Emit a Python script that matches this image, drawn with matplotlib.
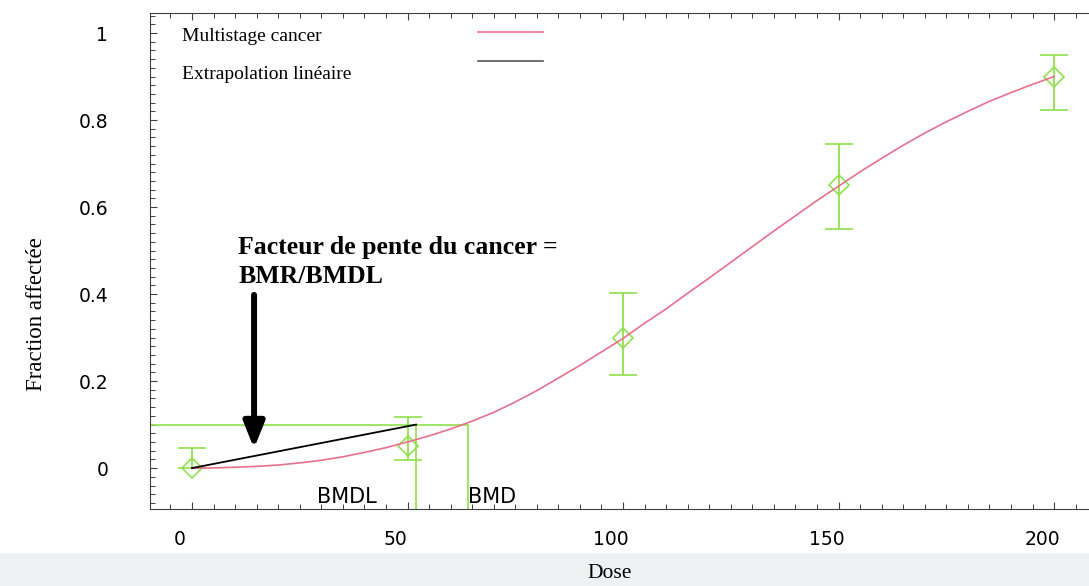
"""
Courbe dose-réponse (modèle multistage) avec BMD / BMDL
et extrapolation linéaire vers l'origine.
"""

import matplotlib.pyplot as plt
from matplotlib.lines import Line2D
from matplotlib.patches import Rectangle
from matplotlib.ticker import MultipleLocator
from matplotlib.transforms import ScaledTranslation

# --- DONNÉES ---
dose = [0, 50, 100, 150, 200]
frac = [0.0, 0.05, 0.30, 0.65, 0.90]
err_bas = [0.0, 0.032, 0.086, 0.10, 0.078]
err_haut = [0.046, 0.067, 0.102, 0.094, 0.050]

# courbe du modèle
model_dose = [0, 5, 10, 15, 20, 25, 30, 35, 40, 45, 50, 55, 60, 65, 70, 75, 80, 85, 90, 95, 100,
              105, 110, 115, 120, 125, 130, 135, 140, 145, 150, 155, 160, 165, 170, 175, 180,
              185, 190, 195, 200]
model_frac = [0.0, 0.0004, 0.002, 0.004, 0.007, 0.012, 0.018, 0.026, 0.036, 0.047, 0.060,
              0.074, 0.090, 0.108, 0.128, 0.152, 0.178, 0.207, 0.236, 0.267, 0.298,
              0.333, 0.366, 0.402, 0.437, 0.473, 0.509, 0.545, 0.580, 0.615, 0.648,
              0.681, 0.712, 0.742, 0.770, 0.796, 0.820, 0.843, 0.863, 0.882, 0.900]

BMR = 0.1
BMDL = 52
BMD = 64

xticks = [0, 50, 100, 150, 200]
yticks = [0, 0.2, 0.4, 0.6, 0.8, 1]
ytick_labels = ['0', '0.2', '0.4', '0.6', '0.8', '1']

# --- STYLE ---
VERT = '#8fe04c'
ROSE = '#e8708c'
SERIF = 'Liberation Serif'
XMIN, XMAX = -9.74, 208.1
YMIN, YMAX = -0.094, 1.046

fig = plt.figure(figsize=(10.89, 5.86), dpi=100)
# bande grise en bas de l'image (sous les axes)
fig.patches.append(Rectangle((0, 0), 1, 0.056, transform=fig.transFigure,
                             color='#eef1f1', zorder=-1))
ax = fig.add_axes([150 / 1089, 1 - 509 / 586, 1 - 150 / 1089, (509 - 13) / 586])
ax.set_xlim(XMIN, XMAX)
ax.set_ylim(YMIN, YMAX)

# BMR / BMDL / BMD
ax.plot([XMIN, BMD], [BMR, BMR], color=VERT, lw=1.2, zorder=2)
ax.vlines([BMDL, BMD], YMIN, BMR, color=VERT, lw=1.2, zorder=2)

# modèle et extrapolation
ax.plot(model_dose, model_frac, color=ROSE, lw=1.2, zorder=4)
ax.plot([0, BMDL], [0, BMR], color='black', lw=1.3, zorder=4)

ax.errorbar(dose, frac, yerr=[err_bas, err_haut], fmt='D', ms=10, mfc='none',
            mec=VERT, mew=1.2, ecolor=VERT, elinewidth=1.3, capsize=10,
            capthick=1.3, zorder=3)

ax.text(42.9, -0.067, 'BMDL', ha='right', va='center', fontsize=15)
ax.text(BMD + 0.1, -0.067, 'BMD', ha='left', va='center', fontsize=15)

# flèche et annotation
ax.annotate('', xy=(14.4, 0.045), xytext=(14.4, 0.398),
            arrowprops=dict(arrowstyle='-|>,head_length=0.65,head_width=0.26',
                            lw=4.3, color='black', mutation_scale=24,
                            shrinkA=0, shrinkB=0))
ax.text(10.7, 0.425, 'Facteur de pente du cancer =\nBMR/BMDL', ha='left', va='baseline',
        fontsize=18.5, fontweight='bold', family=SERIF, linespacing=1.35)

# légende : textes à gauche, traits à droite (deux blocs séparés)
vide = Line2D([], [], color='none')
leg_txt = ax.legend([vide, vide], ['Multistage cancer', 'Extrapolation linéaire'],
                    loc='upper left', bbox_to_anchor=(0.034, 0.970), frameon=False,
                    borderpad=0, borderaxespad=0, handlelength=0, handletextpad=0,
                    labelspacing=1.0, prop={'family': SERIF, 'size': 14})
ax.add_artist(leg_txt)
ax.legend([Line2D([], [], color=ROSE, lw=1.2), Line2D([], [], color='#555555', lw=1.2)],
          ['', ''], loc='upper left', bbox_to_anchor=(0.349, 0.976), frameon=False,
          borderpad=0, borderaxespad=0, handlelength=3.35, handletextpad=0,
          labelspacing=0.61, prop={'family': SERIF, 'size': 14})

# axes
ax.set_xticks(xticks)
ax.set_yticks(yticks, ytick_labels)
ax.xaxis.set_minor_locator(MultipleLocator(5))
ax.yaxis.set_minor_locator(MultipleLocator(0.02))
ax.tick_params(which='both', direction='in', top=True, right=False, color='#404040')
ax.tick_params(which='major', length=5, width=0.8, labelsize=13.5)
ax.tick_params(which='minor', length=3.5, width=0.7)
ax.tick_params(axis='x', pad=15)
ax.tick_params(axis='y', pad=30)
decal = ScaledTranslation(-0.12, 0, fig.dpi_scale_trans)
for lab in ax.get_xticklabels():
    lab.set_transform(lab.get_transform() + decal)
for s in ['left', 'bottom', 'top']:
    ax.spines[s].set_color('#404040')
ax.spines['right'].set_visible(False)

ax.set_xlabel('Dose', family=SERIF, fontsize=15.5)
ax.set_ylabel('Fraction affectée', family=SERIF, fontsize=16.5)
ax.xaxis.set_label_coords(0.490, -0.111)
ax.yaxis.set_label_coords(-0.110, 0.393)

fig.savefig('out.png', dpi=100)
